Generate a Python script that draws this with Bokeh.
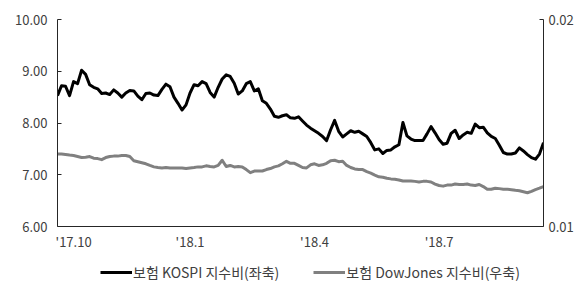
from bokeh.plotting import figure
from bokeh.layouts import column
from bokeh.models import Range1d, LinearAxis, FixedTicker, PrintfTickFormatter, Legend, LegendItem
from bokeh.embed import file_html
from bokeh.resources import INLINE

# 보험 KOSPI 지수비 (left axis)
kospi = [8.53, 8.72, 8.71, 8.53, 8.80, 8.76, 9.02, 8.94, 8.74, 8.69,
         8.66, 8.57, 8.58, 8.55, 8.64, 8.58, 8.50, 8.58, 8.63, 8.62,
         8.52, 8.45, 8.57, 8.58, 8.54, 8.53, 8.65, 8.75, 8.70, 8.50,
         8.38, 8.25, 8.35, 8.58, 8.74, 8.72, 8.80, 8.76, 8.59, 8.50,
         8.69, 8.85, 8.93, 8.90, 8.77, 8.56, 8.62, 8.76, 8.80, 8.62,
         8.66, 8.43, 8.38, 8.27, 8.13, 8.11, 8.14, 8.16, 8.10, 8.09,
         8.12, 8.04, 7.96, 7.90, 7.85, 7.80, 7.74, 7.66, 7.87, 8.05,
         7.84, 7.73, 7.79, 7.85, 7.82, 7.84, 7.79, 7.74, 7.62, 7.48,
         7.50, 7.41, 7.47, 7.48, 7.54, 7.58, 8.01, 7.75, 7.69, 7.66,
         7.66, 7.66, 7.79, 7.93, 7.81, 7.68, 7.59, 7.61, 7.80, 7.86,
         7.70, 7.77, 7.82, 7.80, 7.98, 7.91, 7.92, 7.81, 7.74, 7.70,
         7.57, 7.43, 7.40, 7.40, 7.42, 7.52, 7.46, 7.39, 7.33, 7.30,
         7.40, 7.62]

# 보험 DowJones 지수비 (right axis)
dow = [0.01350, 0.01350, 0.01348, 0.01345, 0.01343, 0.01338, 0.01333, 0.01335, 0.01338, 0.01330,
       0.01328, 0.01323, 0.01333, 0.01338, 0.01340, 0.01340, 0.01343, 0.01343, 0.01338, 0.01318,
       0.01313, 0.01308, 0.01303, 0.01295, 0.01288, 0.01285, 0.01283, 0.01285, 0.01283, 0.01283,
       0.01283, 0.01283, 0.01280, 0.01283, 0.01285, 0.01288, 0.01288, 0.01293, 0.01290, 0.01288,
       0.01295, 0.01320, 0.01290, 0.01295, 0.01288, 0.01290, 0.01288, 0.01275, 0.01260, 0.01268,
       0.01268, 0.01268, 0.01275, 0.01280, 0.01288, 0.01293, 0.01303, 0.01315, 0.01305, 0.01305,
       0.01295, 0.01285, 0.01283, 0.01298, 0.01303, 0.01295, 0.01298, 0.01305, 0.01318, 0.01320,
       0.01313, 0.01315, 0.01295, 0.01285, 0.01278, 0.01275, 0.01275, 0.01265, 0.01258, 0.01248,
       0.01240, 0.01238, 0.01233, 0.01230, 0.01228, 0.01225, 0.01220, 0.01220, 0.01220, 0.01218,
       0.01215, 0.01218, 0.01218, 0.01215, 0.01205, 0.01198, 0.01195, 0.01200, 0.01200, 0.01205,
       0.01203, 0.01203, 0.01205, 0.01200, 0.01198, 0.01203, 0.01193, 0.01180, 0.01180, 0.01185,
       0.01183, 0.01180, 0.01180, 0.01178, 0.01175, 0.01173, 0.01168, 0.01163, 0.01170, 0.01178,
       0.01185, 0.01193]

# month-start positions (trading-day index) and their labels
tick_idx = [0, 29, 60, 91]
tick_labels = ["'17.10", "'18.1", "'18.4", "'18.7"]
label_shift = 4  # labels sit to the right of the month start

left_ticks = [6, 7, 8, 9, 10]
right_ticks = [0.01, 0.02]

series_names = ["보험 KOSPI 지수비(좌축)", "보험 DowJones 지수비(우축)"]
series_colors = ["black", "#808080"]

x = list(range(len(kospi)))

FONT = "Noto Sans CJK KR"
TXT = "#404040"
AX = "#262626"
BL, BR = 57, 32

p = figure(width=576, height=254, output_backend="svg", toolbar_location=None,
           x_range=Range1d(0, len(kospi) - 1), y_range=Range1d(6, 10),
           min_border_left=BL, min_border_right=BR, min_border_top=19,
           min_border_bottom=28)
p.extra_y_ranges = {"r": Range1d(0.01, 0.02)}
p.xgrid.visible = False
p.ygrid.visible = False
p.outline_line_color = None
p.background_fill_color = "white"
p.border_fill_color = "white"

p.line(x, kospi, line_color=series_colors[0], line_width=3, line_join="round")
p.line(x, dow, y_range_name="r", line_color=series_colors[1], line_width=3, line_join="round")

def style_axis(a, standoff):
    a.major_tick_in = 4
    a.major_tick_out = 0
    a.minor_tick_in = 0
    a.minor_tick_out = 0
    a.axis_line_color = AX
    a.major_tick_line_color = AX
    a.major_label_standoff = standoff
    a.major_label_text_font = FONT
    a.major_label_text_font_size = "13px"
    a.major_label_text_color = TXT

ya = p.yaxis[0]
ya.ticker = FixedTicker(ticks=left_ticks)
ya.formatter = PrintfTickFormatter(format="%.2f")
style_axis(ya, 10)

ra = LinearAxis(y_range_name="r", ticker=FixedTicker(ticks=right_ticks),
                formatter=PrintfTickFormatter(format="%.2f"))
style_axis(ra, 5)
p.add_layout(ra, "right")

xa = p.xaxis[0]
xt = [i + label_shift for i in tick_idx]
xa.ticker = FixedTicker(ticks=xt)
xa.major_label_overrides = {t: l for t, l in zip(xt, tick_labels)}
style_axis(xa, 5)
xa.major_tick_in = 0

# legend strip below the chart (its lines are kept out of view)
lg = figure(width=576, height=30, output_backend="svg", toolbar_location=None,
            x_range=Range1d(0, len(kospi) - 1), y_range=Range1d(100, 101),
            x_axis_type=None, y_axis_type=None,
            min_border_left=BL, min_border_right=BR, min_border_top=0, min_border_bottom=0)
lg.outline_line_color = None
lg.border_fill_color = "white"
lg.background_fill_color = "white"
proxies = [lg.line(x, kospi, line_color=series_colors[0], line_width=3),
           lg.line(x, dow, line_color=series_colors[1], line_width=3)]
legend = Legend(items=[LegendItem(label=n, renderers=[r]) for n, r in zip(series_names, proxies)],
                orientation="horizontal", location=(43, 2),
                border_line_color=None, background_fill_alpha=0,
                label_text_font=FONT, label_text_font_size="14px",
                label_text_color=TXT, glyph_width=32, glyph_height=14,
                label_height=14, label_standoff=1, spacing=34, margin=0, padding=0)
lg.add_layout(legend, "center")

layout = column(p, lg, spacing=0)
open("out.html", "w").write(file_html(layout, INLINE))
